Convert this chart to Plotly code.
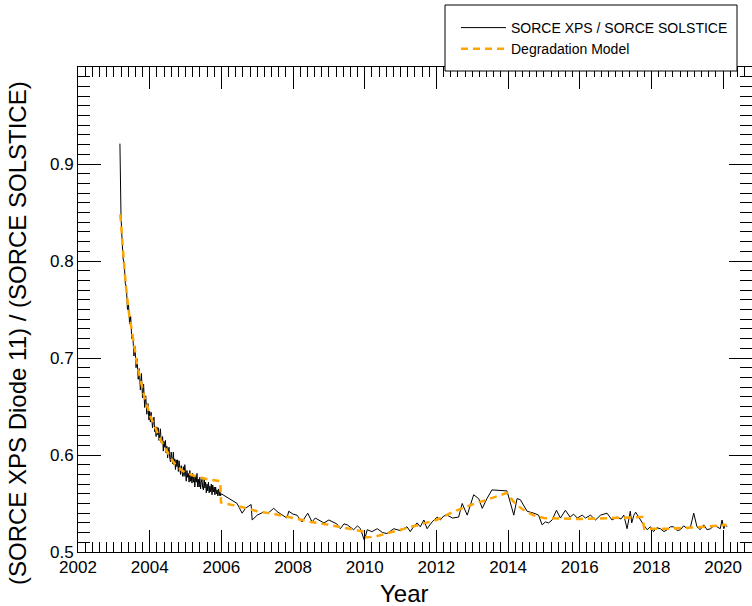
import plotly.graph_objects as go

# ---------------- data ----------------
ratio_years = [
    2003.170, 2003.175, 2003.180, 2003.185, 2003.190, 2003.200,
    2003.23, 2003.26, 2003.29, 2003.32, 2003.35, 2003.38, 2003.41, 2003.44, 2003.47, 2003.50,
    2003.53, 2003.56, 2003.59, 2003.62, 2003.65, 2003.68, 2003.71, 2003.74, 2003.77, 2003.80,
    2003.83, 2003.86, 2003.89, 2003.92, 2003.95, 2003.98,
    2004.00, 2004.02, 2004.04, 2004.06, 2004.08, 2004.10, 2004.12, 2004.14, 2004.16, 2004.18,
    2004.20, 2004.22, 2004.24, 2004.26, 2004.28, 2004.30, 2004.32, 2004.34, 2004.36, 2004.38,
    2004.40, 2004.42, 2004.44, 2004.46, 2004.48, 2004.50, 2004.52, 2004.54, 2004.56, 2004.58,
    2004.60, 2004.62, 2004.64, 2004.66, 2004.68, 2004.70, 2004.72, 2004.74, 2004.76, 2004.78,
    2004.80, 2004.82, 2004.84, 2004.86, 2004.88, 2004.90, 2004.92, 2004.94, 2004.96, 2004.98,
    2005.00, 2005.02, 2005.04, 2005.06, 2005.08, 2005.10, 2005.12, 2005.14, 2005.16, 2005.18,
    2005.20, 2005.22, 2005.24, 2005.26, 2005.28, 2005.30, 2005.32, 2005.34, 2005.36, 2005.38,
    2005.40, 2005.42, 2005.44, 2005.46, 2005.48, 2005.50, 2005.52, 2005.54, 2005.56, 2005.58,
    2005.60, 2005.62, 2005.64, 2005.66, 2005.68, 2005.70, 2005.72, 2005.74, 2005.76, 2005.78,
    2005.80, 2005.82, 2005.84, 2005.86, 2005.88, 2005.90, 2005.92, 2005.94, 2005.96, 2005.98,
    2006.00,
    2006.44, 2006.58, 2006.67, 2006.83, 2006.86, 2007.00, 2007.17, 2007.30, 2007.46, 2007.58,
    2007.69, 2007.83, 2007.88, 2008.00, 2008.11, 2008.25, 2008.41, 2008.53, 2008.62, 2008.72,
    2008.86, 2009.00, 2009.13, 2009.22, 2009.32, 2009.42, 2009.51, 2009.60, 2009.69, 2009.80,
    2009.88, 2009.99, 2010.07, 2010.20, 2010.35, 2010.50, 2010.62, 2010.81, 2011.00, 2011.18,
    2011.27, 2011.38, 2011.46, 2011.55, 2011.65, 2011.74, 2011.88, 2012.02, 2012.11, 2012.20,
    2012.30, 2012.45, 2012.62, 2012.72, 2012.86, 2013.04, 2013.18, 2013.28, 2013.41, 2013.55,
    2013.97, 2014.16, 2014.25, 2014.34, 2014.53, 2014.72, 2014.85, 2014.95, 2015.04, 2015.13,
    2015.23, 2015.35, 2015.46, 2015.60, 2015.73, 2015.83, 2015.93, 2016.07, 2016.16, 2016.30,
    2016.44, 2016.58, 2016.76, 2016.90, 2017.04, 2017.15, 2017.23, 2017.32, 2017.41, 2017.45,
    2017.51, 2017.56, 2017.64, 2017.78, 2017.88, 2017.97, 2018.06, 2018.15, 2018.25, 2018.35,
    2018.44, 2018.53, 2018.62, 2018.72, 2018.81, 2018.90, 2019.00, 2019.09, 2019.18, 2019.27,
    2019.36, 2019.46, 2019.55, 2019.65, 2019.74, 2019.83, 2019.92, 2019.97, 2020.02, 2020.06,
    2020.11,
]
ratio_values = [
    0.921, 0.905, 0.870, 0.862, 0.850, 0.846,
    0.822, 0.802, 0.798, 0.777, 0.773, 0.750, 0.755, 0.735, 0.743, 0.720,
    0.723, 0.702, 0.712, 0.690, 0.699, 0.678, 0.689, 0.667, 0.684, 0.659,
    0.673, 0.649, 0.661, 0.642, 0.653, 0.636,
    0.645, 0.634, 0.644, 0.633, 0.628, 0.635, 0.639, 0.624, 0.629, 0.619,
    0.629, 0.621, 0.628, 0.615, 0.621, 0.627, 0.613, 0.614, 0.619, 0.604,
    0.614, 0.608, 0.615, 0.602, 0.609, 0.597, 0.604, 0.608, 0.597, 0.593,
    0.603, 0.599, 0.591, 0.603, 0.590, 0.596, 0.585, 0.595, 0.588, 0.595,
    0.583, 0.594, 0.583, 0.580, 0.589, 0.585, 0.578, 0.588, 0.578, 0.590,
    0.577, 0.573, 0.584, 0.577, 0.581, 0.572, 0.584, 0.573, 0.578, 0.571,
    0.581, 0.572, 0.578, 0.567, 0.578, 0.572, 0.581, 0.567, 0.575, 0.567,
    0.577, 0.565, 0.572, 0.575, 0.566, 0.564, 0.576, 0.566, 0.572, 0.561,
    0.570, 0.563, 0.572, 0.561, 0.568, 0.562, 0.570, 0.559, 0.569, 0.562,
    0.567, 0.559, 0.567, 0.560, 0.564, 0.558, 0.565, 0.558, 0.563, 0.558,
    0.560,
    0.550, 0.540, 0.545, 0.549, 0.533, 0.538, 0.541, 0.540, 0.545, 0.541,
    0.538, 0.535, 0.542, 0.539, 0.538, 0.531, 0.540, 0.531, 0.535, 0.533,
    0.530, 0.533, 0.531, 0.529, 0.524, 0.529, 0.528, 0.525, 0.523, 0.527,
    0.524, 0.512, 0.523, 0.521, 0.524, 0.520, 0.519, 0.524, 0.522, 0.526,
    0.521, 0.527, 0.530, 0.526, 0.533, 0.524, 0.531, 0.536, 0.533, 0.537,
    0.538, 0.535, 0.536, 0.550, 0.538, 0.559, 0.555, 0.545, 0.555, 0.564,
    0.563, 0.538, 0.555, 0.554, 0.542, 0.540, 0.538, 0.528, 0.531, 0.530,
    0.533, 0.543, 0.535, 0.543, 0.536, 0.539, 0.535, 0.538, 0.535, 0.538,
    0.533, 0.538, 0.540, 0.533, 0.536, 0.534, 0.538, 0.524, 0.542, 0.530,
    0.538, 0.541, 0.536, 0.528, 0.523, 0.526, 0.521, 0.525, 0.524, 0.521,
    0.523, 0.526, 0.526, 0.522, 0.523, 0.527, 0.524, 0.526, 0.540, 0.526,
    0.523, 0.528, 0.523, 0.524, 0.527, 0.526, 0.524, 0.533, 0.524, 0.528,
    0.526,
]

model_years = [
    2003.18, 2003.22, 2003.26, 2003.30, 2003.34, 2003.38, 2003.42, 2003.46, 2003.50, 2003.55,
    2003.60, 2003.65, 2003.70, 2003.75, 2003.80, 2003.85, 2003.90, 2003.95, 2004.00, 2004.10,
    2004.20, 2004.30, 2004.40, 2004.50, 2004.60, 2004.70, 2004.80, 2004.90, 2005.00, 2005.20,
    2005.40, 2005.60, 2005.80, 2005.97, 2005.99, 2006.50, 2007.00, 2007.50, 2008.00, 2008.50,
    2009.00, 2009.50, 2009.97, 2010.03, 2010.30, 2011.00, 2011.50, 2012.00, 2012.50, 2013.00,
    2013.50, 2013.97, 2014.15, 2014.40, 2014.70, 2015.00, 2016.00, 2017.00, 2017.75, 2017.80,
    2018.50, 2019.00, 2019.50, 2020.10,
]
model_values = [
    0.848, 0.826, 0.806, 0.790, 0.773, 0.758, 0.747, 0.738, 0.728, 0.714,
    0.702, 0.693, 0.685, 0.676, 0.667, 0.660, 0.654, 0.648, 0.642, 0.633,
    0.624, 0.616, 0.609, 0.602, 0.596, 0.591, 0.587, 0.584, 0.582, 0.579,
    0.577, 0.575, 0.574, 0.573, 0.551, 0.547, 0.542, 0.539, 0.535, 0.531,
    0.528, 0.524, 0.521, 0.515, 0.516, 0.523, 0.528, 0.533, 0.542, 0.549,
    0.555, 0.561, 0.552, 0.544, 0.538, 0.535, 0.534, 0.535, 0.536, 0.524,
    0.524, 0.525, 0.526, 0.528,
]

y_tick_values = [0.5, 0.6, 0.7, 0.8, 0.9]
y_tick_labels = ["0.5", "0.6", "0.7", "0.8", "0.9"]
x_tick_values = [2002, 2004, 2006, 2008, 2010, 2012, 2014, 2016, 2018, 2020]
x_tick_labels = ["2002", "2004", "2006", "2008", "2010", "2012", "2014", "2016", "2018", "2020"]

FONT = "Arial, 'Liberation Sans', sans-serif"

fig = go.Figure()
fig.add_trace(go.Scatter(
    x=ratio_years, y=ratio_values, mode="lines",
    name="SORCE XPS / SORCE SOLSTICE",
    line=dict(color="black", width=1),
))
fig.add_trace(go.Scatter(
    x=model_years, y=model_values, mode="lines",
    name="Degradation Model",
    line=dict(color="#FFA500", width=2.5, dash="7px,5px"),
))

W, H = 752, 606
L, R, T, B = 78, 0, 67, 54
pw, ph = W - L - R, H - T - B

def px_x(p):
    return (p - L) / pw

def px_y(p):
    return (H - B - p) / ph

fig.update_layout(
    width=W, height=H,
    margin=dict(l=L, r=R, t=T, b=B, pad=0),
    paper_bgcolor="white", plot_bgcolor="white",
    font=dict(family=FONT, color="black", size=17),
    showlegend=True,
    legend=dict(
        x=px_x(456), y=px_y(12), xanchor="left", yanchor="top",
        bgcolor="rgba(0,0,0,0)", borderwidth=0,
        font=dict(family=FONT, size=14, color="black"),
        itemwidth=45, tracegroupgap=0,
    ),
    shapes=[dict(
        type="rect", xref="paper", yref="paper",
        x0=px_x(445), x1=px_x(737), y0=px_y(71), y1=px_y(5),
        line=dict(color="black", width=1), fillcolor="white", layer="above",
    )],
    annotations=[
        dict(text="Year", xref="paper", yref="paper", x=px_x(404), y=px_y(593),
             xanchor="center", yanchor="middle", showarrow=False,
             font=dict(family=FONT, size=24, color="black")),
        dict(text="(SORCE XPS Diode 11) / (SORCE SOLSTICE)", xref="paper", yref="paper",
             x=px_x(17), y=px_y(333), xanchor="center", yanchor="middle", textangle=-90,
             showarrow=False, font=dict(family=FONT, size=24, color="black")),
    ],
)

fig.update_xaxes(
    range=[2002, 2002 + pw / 35.84],
    tickmode="array", tickvals=x_tick_values, ticktext=x_tick_labels,
    ticks="inside", ticklen=22, tickwidth=1, tickcolor="black",
    minor=dict(dtick=0.2, tick0=2002, ticks="inside", ticklen=10, tickwidth=1, tickcolor="black"),
    showline=True, linecolor="black", linewidth=1, mirror="ticks",
    showgrid=False, zeroline=False,
    tickfont=dict(family=FONT, size=17, color="black"),
)
fig.update_yaxes(
    range=[0.5, 1.0],
    tickmode="array", tickvals=y_tick_values, ticktext=y_tick_labels,
    ticks="inside", ticklen=23, tickwidth=1, tickcolor="black",
    minor=dict(dtick=0.01, tick0=0.5, ticks="inside", ticklen=12, tickwidth=1, tickcolor="black"),
    showline=True, linecolor="black", linewidth=1, mirror="ticks",
    showgrid=False, zeroline=False,
    tickfont=dict(family=FONT, size=17, color="black"),
)

fig.write_html("out.html")
